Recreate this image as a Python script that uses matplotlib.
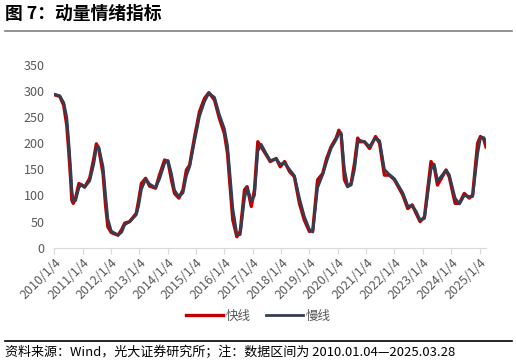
import matplotlib
matplotlib.use("Agg")
import matplotlib.pyplot as plt
import pandas as pd

plt.rcParams['font.family'] = ['Noto Sans CJK SC', 'DejaVu Sans']

dates = ["2010-01-04", "2010-03-15", "2010-05-05", "2010-06-13", "2010-07-08", "2010-08-03",
         "2010-08-18", "2010-09-05", "2010-10-05", "2010-11-17", "2010-12-23", "2011-01-30",
         "2011-04-05", "2011-05-27", "2011-06-30", "2011-07-30", "2011-09-24", "2011-10-27",
         "2011-11-25", "2012-01-08", "2012-04-04", "2012-05-22", "2012-06-29", "2012-09-01",
         "2012-11-25", "2012-12-25", "2013-01-30", "2013-03-26", "2013-05-16", "2013-08-01",
         "2013-09-22", "2013-11-25", "2014-01-08", "2014-02-21", "2014-04-02", "2014-05-28",
         "2014-07-20", "2014-09-02", "2014-10-13", "2014-12-17", "2015-02-18", "2015-04-23",
         "2015-06-18", "2015-08-30", "2015-10-31", "2016-01-04", "2016-02-14", "2016-03-11",
         "2016-04-22", "2016-06-13", "2016-07-26", "2016-09-20", "2016-10-23", "2016-12-16",
         "2017-01-26", "2017-03-10", "2017-04-23", "2017-06-26", "2017-08-17", "2017-11-02",
         "2017-12-24", "2018-02-18", "2018-04-22", "2018-06-24", "2018-08-28", "2018-10-30",
         "2019-01-04", "2019-02-16", "2019-04-19", "2019-06-24", "2019-08-14", "2019-10-09",
         "2019-12-14", "2020-01-18", "2020-02-17", "2020-03-30", "2020-05-11", "2020-06-24",
         "2020-08-07", "2020-09-17", "2020-10-09", "2020-12-13", "2021-02-17", "2021-05-05",
         "2021-06-26", "2021-08-27", "2021-10-31", "2022-01-04", "2022-04-21", "2022-06-24",
         "2022-08-20", "2022-10-09", "2022-11-30", "2023-01-25", "2023-04-19", "2023-05-31",
         "2023-07-12", "2023-10-30", "2023-12-10", "2024-02-24", "2024-04-19", "2024-06-21",
         "2024-08-24", "2024-10-07", "2024-12-10", "2025-01-15", "2025-02-27", "2025-03-28"]

fast = [293, 290, 273, 235, 187, 130, 91, 85, 95, 123, 120, 116,
        133, 170, 199, 190, 142, 80, 40, 29, 24, 35, 47, 50,
        66, 90, 123, 133, 118, 114, 140, 168, 165, 130, 104, 95,
        111, 149, 158, 213, 261, 286, 297, 283, 248, 219, 180, 130,
        53, 21, 31, 111, 117, 79, 111, 203, 193, 178, 165, 171,
        155, 165, 146, 136, 85, 53, 31, 33, 130, 142, 171, 193,
        210, 225, 216, 130, 117, 123, 162, 210, 203, 203, 190, 213,
        200, 139, 139, 130, 101, 75, 82, 66, 50, 59, 165, 155,
        120, 149, 136, 85, 85, 104, 95, 101, 200, 213, 208, 193]

slow = [294, 291, 278, 250, 205, 150, 110, 90, 90, 115, 121, 116,
        128, 160, 192, 193, 155, 100, 55, 32, 24, 30, 44, 50,
        63, 80, 112, 131, 122, 115, 132, 162, 167, 142, 110, 98,
        105, 138, 155, 205, 252, 280, 296, 288, 255, 228, 195, 150,
        75, 26, 25, 95, 115, 90, 100, 185, 198, 180, 167, 170,
        160, 162, 150, 138, 95, 60, 35, 30, 115, 140, 165, 190,
        207, 218, 220, 150, 118, 120, 150, 200, 206, 203, 194, 210,
        205, 150, 140, 132, 105, 80, 80, 70, 53, 56, 150, 160,
        128, 148, 140, 95, 84, 100, 98, 98, 180, 210, 211, 203]

y_ticks = [0, 50, 100, 150, 200, 250, 300, 350]
x_tick_labels = [f"{y}/1/4" for y in range(2010, 2026)]

title = "图 7：动量情绪指标"
source = "资料来源：Wind，光大证券研究所；注：数据区间为 2010.01.04—2025.03.28"

d = pd.to_datetime(dates)

fig = plt.figure(figsize=(5.16, 3.64), dpi=100)
ax = fig.add_axes([54.3 / 516, 1 - 247.7 / 364, (486 - 54.3) / 516, (247.7 - 65) / 364])

ax.plot(d, fast, color="#C00000", lw=2.4, label="快线", solid_joinstyle="round")
ax.plot(d, slow, color="#333F50", lw=2.0, label="慢线", solid_joinstyle="round")

ax.set_ylim(0, 350)
ax.set_yticks(y_ticks)
ax.set_xlim(pd.Timestamp("2010-01-04"), pd.Timestamp("2025-03-28"))
tick_dates = pd.to_datetime([f"{y}-01-04" for y in range(2010, 2026)])
ax.set_xticks(tick_dates)
ax.set_xticklabels(x_tick_labels, rotation=45, ha="right", rotation_mode="anchor")

for s in ["top", "right", "left"]:
    ax.spines[s].set_visible(False)
ax.spines["bottom"].set_color("#D9D9D9")
ax.tick_params(axis="y", length=0, labelsize=9, labelcolor="#595959", pad=7)
ax.tick_params(axis="x", length=4, color="#D9D9D9", labelsize=9, labelcolor="#595959", pad=2)

leg = fig.legend(loc="center", bbox_to_anchor=(0.5, 1 - 316 / 364), ncol=2, frameon=False,
                 fontsize=9, handlelength=3.0, columnspacing=1.2, handletextpad=0.2)
for t in leg.get_texts():
    t.set_color("#595959")

fig.text(5 / 516, 1 - 14 / 364, title, fontsize=12.8, fontweight="bold", va="center", ha="left", color="#000000")
fig.add_artist(plt.Line2D([5 / 516, 512 / 516], [1 - 31 / 364, 1 - 31 / 364], color="#7F7F7F", lw=1.2))
fig.add_artist(plt.Line2D([5 / 516, 512 / 516], [1 - 341 / 364, 1 - 341 / 364], color="#000000", lw=1.2))
fig.text(5 / 516, 1 - 352 / 364, source, fontsize=9.4, va="center", ha="left", color="#000000")

fig.savefig("out.png", dpi=100)
